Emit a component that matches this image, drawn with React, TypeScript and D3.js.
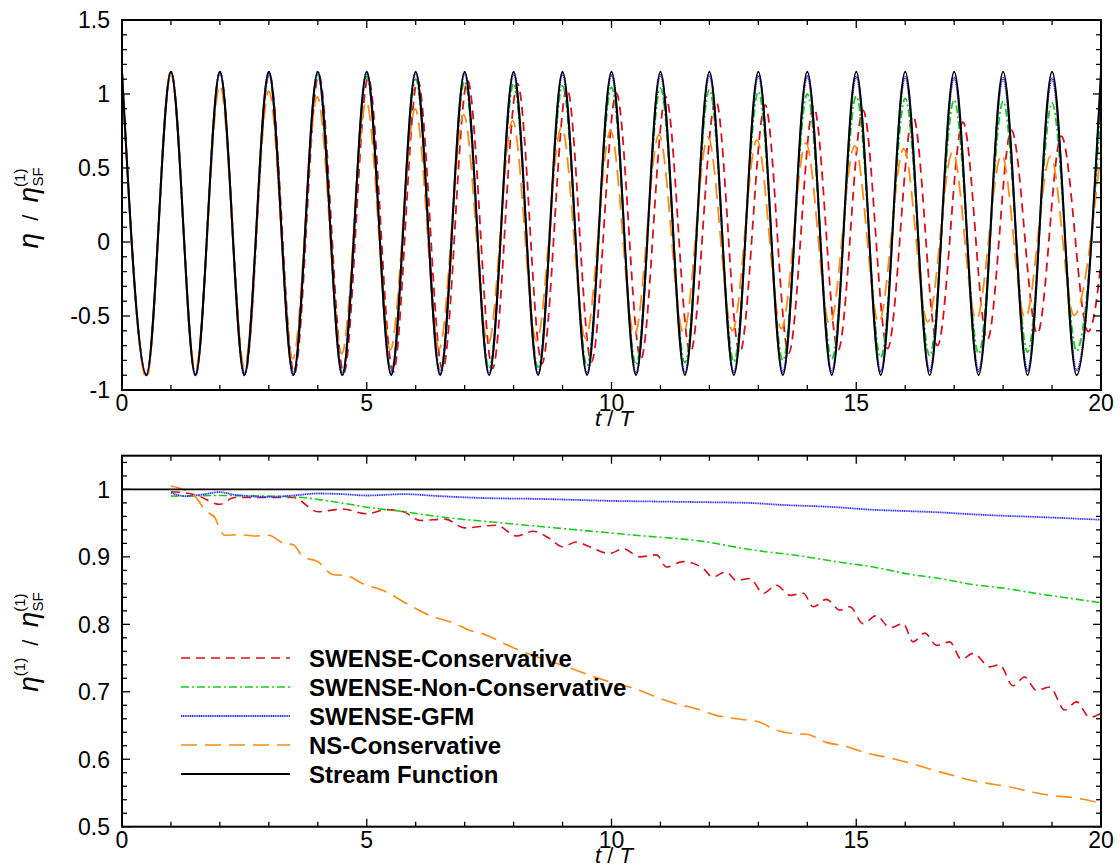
import React from "react";
import * as d3 from "d3";

// ---------- DATA ----------
// crest times (t/T) of the reference stream-function wave
const cycleT = [0, 1, 2, 3, 4, 5, 6, 7, 8, 9, 10, 11, 12, 13, 14, 15, 16, 17, 18, 19, 20];

// Top panel: crest values (at t = k + lag) and trough values (at t = k + 0.5 + lag)
const sfCrest = [1.15, 1.15, 1.15, 1.15, 1.15, 1.15, 1.15, 1.15, 1.15, 1.15, 1.15, 1.15, 1.15, 1.15, 1.15, 1.15, 1.15, 1.15, 1.15, 1.15, 1.15];
const sfTrough = [-0.9, -0.9, -0.9, -0.9, -0.9, -0.9, -0.9, -0.9, -0.9, -0.9, -0.9, -0.9, -0.9, -0.9, -0.9, -0.9, -0.9, -0.9, -0.9, -0.9];

const gfmCrest = [1.15, 1.15, 1.15, 1.15, 1.148, 1.146, 1.144, 1.141, 1.138, 1.135, 1.132, 1.13, 1.127, 1.124, 1.121, 1.118, 1.115, 1.112, 1.108, 1.105, 1.102];
const gfmTrough = [-0.9, -0.9, -0.9, -0.899, -0.898, -0.896, -0.894, -0.892, -0.89, -0.889, -0.887, -0.885, -0.883, -0.881, -0.879, -0.877, -0.875, -0.873, -0.871, -0.869];

const nonConsCrest = [1.15, 1.15, 1.145, 1.14, 1.13, 1.12, 1.1, 1.085, 1.07, 1.055, 1.045, 1.04, 1.03, 1.015, 1.0, 0.985, 0.97, 0.96, 0.95, 0.94, 0.925];
const nonConsTrough = [-0.9, -0.9, -0.895, -0.89, -0.885, -0.875, -0.865, -0.855, -0.845, -0.835, -0.83, -0.815, -0.81, -0.8, -0.79, -0.78, -0.77, -0.755, -0.745, -0.735];

const consCrest = [1.15, 1.15, 1.145, 1.14, 1.13, 1.11, 1.095, 1.09, 1.07, 1.04, 1.005, 0.98, 0.96, 0.925, 0.915, 0.89, 0.85, 0.81, 0.755, 0.715, 0.7];
const consCrestLag = [0, 0, 0, 0.01, 0.02, 0.03, 0.04, 0.06, 0.08, 0.09, 0.1, 0.11, 0.13, 0.14, 0.13, 0.14, 0.16, 0.18, 0.17, 0.19, 0.22];
const consTrough = [-0.9, -0.9, -0.895, -0.89, -0.885, -0.88, -0.865, -0.855, -0.82, -0.81, -0.79, -0.75, -0.75, -0.75, -0.73, -0.72, -0.7, -0.66, -0.62, -0.605];
const consTroughLag = [0, 0, 0.01, 0.02, 0.03, 0.04, 0.05, 0.07, 0.08, 0.09, 0.1, 0.11, 0.12, 0.12, 0.13, 0.14, 0.16, 0.18, 0.2, 0.24];

const nsCrest = [1.15, 1.13, 1.06, 1.02, 0.98, 0.95, 0.9, 0.86, 0.82, 0.78, 0.75, 0.725, 0.71, 0.69, 0.67, 0.65, 0.63, 0.61, 0.59, 0.58, 0.565];
const nsCrestLag = [0, 0, 0, 0, -0.01, -0.01, -0.01, -0.02, -0.02, -0.02, -0.02, -0.03, -0.03, -0.03, -0.03, -0.03, -0.03, -0.03, -0.03, -0.03, -0.02];
const nsTrough = [-0.92, -0.865, -0.84, -0.79, -0.755, -0.73, -0.72, -0.69, -0.67, -0.65, -0.63, -0.615, -0.6, -0.585, -0.56, -0.545, -0.54, -0.525, -0.515, -0.495];
const nsTroughLag = [0, 0, 0, -0.01, -0.01, -0.02, -0.02, -0.02, -0.03, -0.03, -0.03, -0.03, -0.03, -0.03, -0.04, -0.04, -0.04, -0.05, -0.05, -0.05];

// Bottom panel: first-harmonic amplitude ratio
const sfBotT = [0, 20];
const sfBotV = [1, 1];

const gfmBotT = [1.0, 1.3, 1.6, 2.0, 2.3, 3.0, 3.5, 4.0, 4.5, 5.0, 5.75, 6.5, 7.5, 8.5, 9.5, 10, 11, 12, 12.8, 13.5, 14.5, 15.3, 16, 16.7, 17.4, 18, 18.75, 19.4, 20];
const gfmBotV = [0.995, 0.99, 0.992, 0.996, 0.992, 0.989, 0.991, 0.994, 0.993, 0.991, 0.993, 0.99, 0.987, 0.986, 0.984, 0.983, 0.982, 0.981, 0.98, 0.977, 0.974, 0.97, 0.968, 0.966, 0.963, 0.961, 0.959, 0.957, 0.955];

const nonConsBotT = [1.0, 2.0, 3.0, 3.5, 4.3, 5.07, 5.75, 6.43, 7.8, 9.15, 10.5, 11.87, 12.82, 13.99, 14.67, 15.35, 16.03, 16.7, 17.39, 18.07, 18.75, 19.43, 20];
const nonConsBotV = [0.99, 0.991, 0.99, 0.989, 0.982, 0.973, 0.967, 0.96, 0.95, 0.941, 0.932, 0.923, 0.911, 0.9, 0.892, 0.885, 0.875, 0.868, 0.859, 0.853, 0.845, 0.838, 0.832];

const consBotT = [1.0, 1.5, 2.0, 2.3, 2.8, 3.5, 4.0, 4.5, 5.0, 5.4, 5.75, 6.09, 6.6, 7.0, 7.65, 8.06, 8.4, 8.74, 9.0, 9.28, 9.55, 9.96, 10.24, 10.58, 10.92, 11.12, 11.46, 11.87, 12.07, 12.34, 12.55, 12.83, 13.1, 13.37, 13.65, 13.92, 14.12, 14.39, 14.67, 14.87, 15.14, 15.41, 15.69, 15.96, 16.16, 16.4, 16.64, 16.91, 17.15, 17.39, 17.73, 17.93, 18.2, 18.44, 18.68, 18.95, 19.26, 19.5, 19.77, 20];
const consBotV = [0.9965, 0.992, 0.978, 0.988, 0.988, 0.988, 0.967, 0.971, 0.964, 0.97, 0.967, 0.954, 0.956, 0.943, 0.947, 0.931, 0.938, 0.927, 0.915, 0.922, 0.915, 0.905, 0.912, 0.9, 0.903, 0.885, 0.893, 0.883, 0.87, 0.878, 0.865, 0.868, 0.846, 0.858, 0.843, 0.846, 0.826, 0.837, 0.821, 0.826, 0.801, 0.813, 0.795, 0.801, 0.774, 0.787, 0.769, 0.774, 0.748, 0.757, 0.737, 0.74, 0.709, 0.722, 0.702, 0.707, 0.673, 0.685, 0.662, 0.668];

const nsBotT = [1.0, 1.5, 1.7, 1.9, 2.0, 2.1, 2.4, 2.7, 3.0, 3.3, 3.5, 3.7, 4.0, 4.3, 4.6, 4.9, 5.4, 5.81, 6.29, 6.77, 7.11, 7.45, 7.79, 8.13, 8.47, 8.88, 9.28, 9.69, 10.1, 10.5, 10.92, 11.33, 11.73, 12.14, 12.55, 13.03, 13.3, 13.71, 13.99, 14.39, 14.8, 15.21, 15.62, 16.16, 16.57, 16.98, 17.39, 17.8, 18.2, 18.61, 19.02, 19.43, 20];
const nsBotV = [1.005, 0.989, 0.969, 0.958, 0.94, 0.932, 0.933, 0.931, 0.932, 0.92, 0.918, 0.9, 0.893, 0.874, 0.872, 0.861, 0.848, 0.831, 0.813, 0.802, 0.791, 0.784, 0.772, 0.761, 0.752, 0.742, 0.732, 0.721, 0.712, 0.704, 0.692, 0.682, 0.675, 0.665, 0.66, 0.655, 0.645, 0.638, 0.637, 0.625, 0.619, 0.609, 0.603, 0.593, 0.584, 0.576, 0.568, 0.563, 0.558, 0.551, 0.546, 0.543, 0.535];

// Axes
const xTickVals = [0, 5, 10, 15, 20];
const xTickLabels = ["0", "5", "10", "15", "20"];
const topYTickVals = [-1, -0.5, 0, 0.5, 1, 1.5];
const topYTickLabels = ["-1", "-0.5", "0", "0.5", "1", "1.5"];
const botYTickVals = [0.5, 0.6, 0.7, 0.8, 0.9, 1];
const botYTickLabels = ["0.5", "0.6", "0.7", "0.8", "0.9", "1"];

const legendLabels = ["SWENSE-Conservative", "SWENSE-Non-Conservative", "SWENSE-GFM", "NS-Conservative", "Stream Function"];

// ---------- STYLE ----------
const SANS = "'Liberation Sans', Arial, Helvetica, sans-serif";
const NB = "\u00a0";
const styles = [
  { color: "#d6101c", dash: "9,6", width: 1.8 },
  { color: "#19cc19", dash: "8,3,2,3", width: 1.8 },
  { color: "#3030ff", dash: "1.2,0.6", width: 2 },
  { color: "#ff8a14", dash: "16,8", width: 1.8 },
  { color: "#000000", dash: "", width: 2 },
];

const X0 = 122, X1 = 1101;
const TOP = { y0: 20, y1: 390 };
const BOT = { y0: 455.7, y1: 826.7 };

const xScale = d3.scaleLinear().domain([0, 20]).range([X0, X1]);
const yTop = d3.scaleLinear().domain([-1, 1.5]).range([TOP.y1, TOP.y0]);
const yBot = d3.scaleLinear().domain([0.5, 1.05]).range([BOT.y1, BOT.y0]);

function wavePoints(crest: number[], trough: number[], crestLag?: number[], troughLag?: number[]) {
  const pts: [number, number][] = [];
  crest.forEach((c, i) => {
    pts.push([cycleT[i] + (crestLag ? crestLag[i] : 0), c]);
    if (i < trough.length) pts.push([cycleT[i] + 0.5 + (troughLag ? troughLag[i] : 0), trough[i]]);
  });
  return pts;
}

function zipPts(t: number[], v: number[]) {
  return t.map((tt, i) => [tt, v[i]] as [number, number]);
}

const topSeries = [
  wavePoints(consCrest, consTrough, consCrestLag, consTroughLag),
  wavePoints(nonConsCrest, nonConsTrough),
  wavePoints(gfmCrest, gfmTrough),
  wavePoints(nsCrest, nsTrough, nsCrestLag, nsTroughLag),
  wavePoints(sfCrest, sfTrough),
];

const botSeries = [
  zipPts(consBotT, consBotV),
  zipPts(nonConsBotT, nonConsBotV),
  zipPts(gfmBotT, gfmBotV),
  zipPts(nsBotT, nsBotV),
  zipPts(sfBotT, sfBotV),
];

function Frame({ y, yMinor, yMajor, yVals, yLabels, y0, y1 }: any) {
  const xs = d3.range(0, 21, 1);
  const items: any[] = [];
  xs.forEach((t) => {
    const major = t % 5 === 0;
    const L = major ? 8 : 5;
    const px = xScale(t);
    items.push(<line key={"xb" + t} x1={px} x2={px} y1={y1} y2={y1 - L} stroke="#000" strokeWidth={1.3} />);
    items.push(<line key={"xt" + t} x1={px} x2={px} y1={y0} y2={y0 + L} stroke="#000" strokeWidth={1.3} />);
  });
  yMinor.forEach((v: number, i: number) => {
    const major = yMajor.some((m: number) => Math.abs(m - v) < 1e-6);
    const L = major ? 8 : 5;
    const py = y(v);
    items.push(<line key={"yl" + i} x1={X0} x2={X0 + L} y1={py} y2={py} stroke="#000" strokeWidth={1.3} />);
    items.push(<line key={"yr" + i} x1={X1} x2={X1 - L} y1={py} y2={py} stroke="#000" strokeWidth={1.3} />);
  });
  return (
    <g>
      {items}
      <rect x={X0} y={y0} width={X1 - X0} height={y1 - y0} fill="none" stroke="#000" strokeWidth={2} />
      {xTickVals.map((t, i) => (
        <text key={"xl" + i} x={xScale(t)} y={y1 + 21} textAnchor="middle" fontSize={23} fontFamily={SANS}>
          {xTickLabels[i]}
        </text>
      ))}
      {yVals.map((v: number, i: number) => (
        <text key={"ylab" + i} x={110} y={y(v)} dy="0.36em" textAnchor="end" fontSize={23} fontFamily={SANS}>
          {yLabels[i]}
        </text>
      ))}
      <text x={614} y={y1 + 36} textAnchor="middle" fontSize={22} fontFamily={SANS}>
        <tspan fontStyle="italic">t</tspan>
        <tspan>{NB + "/" + NB}</tspan>
        <tspan fontStyle="italic">T</tspan>
      </text>
    </g>
  );
}

export default function App() {
  const lineTop = d3.line<[number, number]>().x((d) => xScale(d[0])).y((d) => yTop(d[1])).curve(d3.curveMonotoneX);
  const lineBot = d3.line<[number, number]>().x((d) => xScale(d[0])).y((d) => yBot(d[1])).curve(d3.curveMonotoneX);

  const topMinor = d3.range(-1, 1.5001, 0.1).map((v) => Math.round(v * 10) / 10);
  const botMinor = d3.range(0.5, 1.0401, 0.02).map((v) => Math.round(v * 100) / 100);

  const legendY = [658, 687, 716, 745, 774];
  const slash = NB + NB + "/" + NB + NB;

  return (
    <svg width={1120} height={867} style={{ position: "absolute", left: 0, top: 0, background: "#fff" }}>
      <defs>
        <clipPath id="clipTop">
          <rect x={X0} y={TOP.y0} width={X1 - X0} height={TOP.y1 - TOP.y0} />
        </clipPath>
        <clipPath id="clipBot">
          <rect x={X0} y={BOT.y0} width={X1 - X0} height={BOT.y1 - BOT.y0} />
        </clipPath>
      </defs>
      <rect x={0} y={0} width={1120} height={867} fill="#fff" />

      {/* Top panel */}
      <g clipPath="url(#clipTop)">
        {topSeries.map((pts, i) => (
          <path key={"ts" + i} d={lineTop(pts) || ""} fill="none" stroke={styles[i].color}
            strokeWidth={styles[i].width} strokeDasharray={styles[i].dash || undefined} />
        ))}
      </g>
      <Frame y={yTop} yMinor={topMinor} yMajor={topYTickVals} yVals={topYTickVals} yLabels={topYTickLabels} y0={TOP.y0} y1={TOP.y1} />
      <text transform={`translate(38,208) rotate(-90)`} textAnchor="middle" fontSize={28} fontFamily={SANS}>
        <tspan fontStyle="italic">η</tspan>
        <tspan fontSize={22}>{slash}</tspan>
        <tspan fontStyle="italic">η</tspan>
        <tspan fontSize={15} dy={-13}>(1)</tspan>
        <tspan fontSize={15} dx={-18} dy={18}>SF</tspan>
      </text>

      {/* Bottom panel */}
      <g clipPath="url(#clipBot)">
        {botSeries.map((pts, i) => (
          <path key={"bs" + i} d={lineBot(pts) || ""} fill="none" stroke={styles[i].color}
            strokeWidth={styles[i].width - 0.2} strokeDasharray={styles[i].dash || undefined} />
        ))}
      </g>
      <Frame y={yBot} yMinor={botMinor} yMajor={botYTickVals} yVals={botYTickVals} yLabels={botYTickLabels} y0={BOT.y0} y1={BOT.y1} />
      <text transform={`translate(38,642) rotate(-90)`} textAnchor="middle" fontSize={28} fontFamily={SANS}>
        <tspan fontStyle="italic">η</tspan>
        <tspan fontSize={15} dy={-13}>(1)</tspan>
        <tspan fontSize={22} dy={13}>{slash}</tspan>
        <tspan fontStyle="italic">η</tspan>
        <tspan fontSize={15} dy={-13}>(1)</tspan>
        <tspan fontSize={15} dx={-18} dy={18}>SF</tspan>
      </text>

      {/* Legend */}
      {legendLabels.map((lab, i) => (
        <g key={"lg" + i}>
          <line x1={181} x2={290} y1={legendY[i]} y2={legendY[i]} stroke={styles[i].color}
            strokeWidth={styles[i].width - 0.2} strokeDasharray={styles[i].dash || undefined} />
          <text x={309} y={legendY[i] + 9} fontSize={24} fontWeight="bold" fontFamily={SANS}>
            {lab}
          </text>
        </g>
      ))}
    </svg>
  );
}
